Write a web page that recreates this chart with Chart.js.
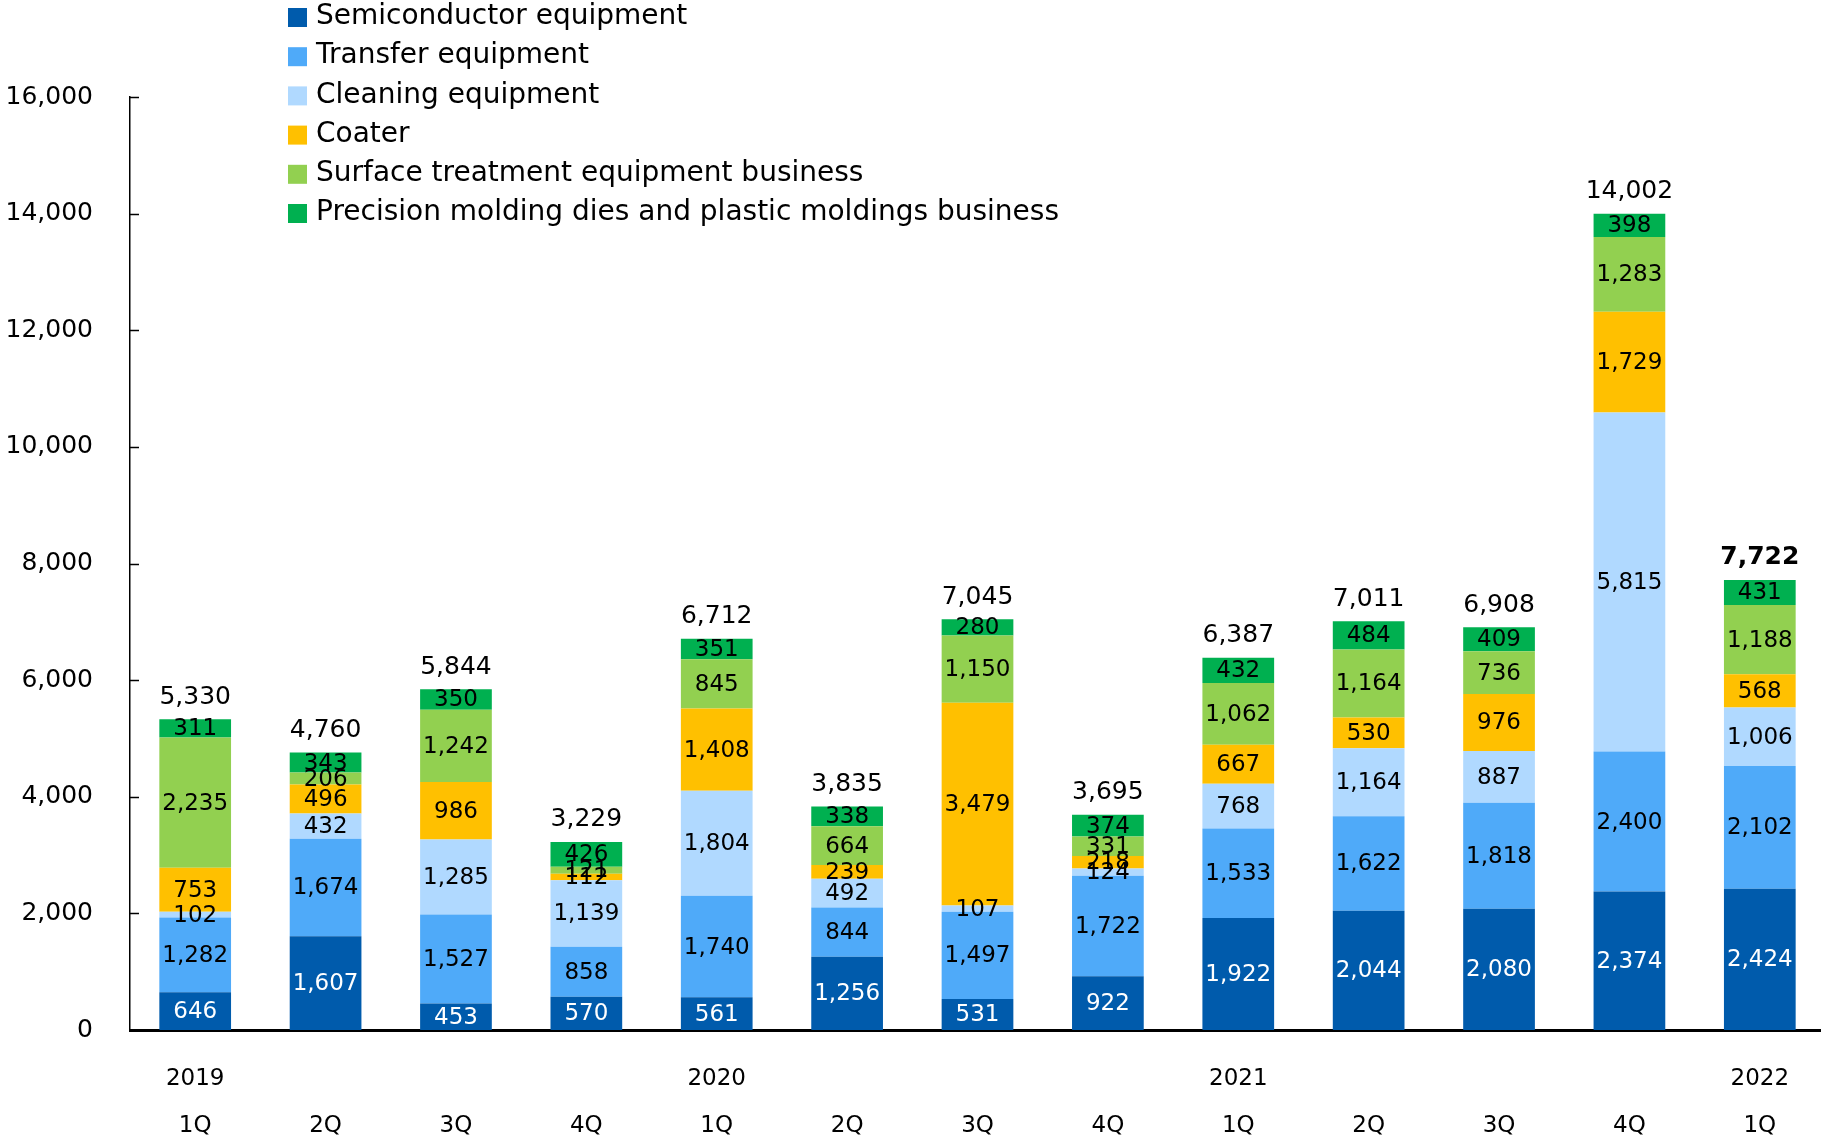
<!DOCTYPE html>
<html>
<head>
<meta charset="utf-8">
<title>Orders by business segment</title>
<script src="https://cdn.jsdelivr.net/npm/chart.js@4/dist/chart.umd.min.js"></script>
<style>
    body { margin: 0; background: #fff; overflow: hidden; }
    #wrap { width: 1821px; height: 1140px; overflow: hidden; }
</style>
</head>
<body>
<div id="wrap"><canvas id="ordersChart" width="1825" height="1140"></canvas></div>
<script>
// Quarter labels (year shown on the first quarter of each year)
const years = ['2019', '', '', '', '2020', '', '', '', '2021', '', '', '', '2022'];
const quarters = ['1Q', '2Q', '3Q', '4Q', '1Q', '2Q', '3Q', '4Q', '1Q', '2Q', '3Q', '4Q', '1Q'];

// Segment values (millions of yen)
const semiconductor = [646, 1607, 453, 570, 561, 1256, 531, 922, 1922, 2044, 2080, 2374, 2424];
const transfer = [1282, 1674, 1527, 858, 1740, 844, 1497, 1722, 1533, 1622, 1818, 2400, 2102];
const cleaning = [102, 432, 1285, 1139, 1804, 492, 107, 124, 768, 1164, 887, 5815, 1006];
const coater = [753, 496, 986, 112, 1408, 239, 3479, 218, 667, 530, 976, 1729, 568];
const surface = [2235, 206, 1242, 121, 845, 664, 1150, 331, 1062, 1164, 736, 1283, 1188];
const precision = [311, 343, 350, 426, 351, 338, 280, 374, 432, 484, 409, 398, 431];

// Quarter totals shown above each stack
const totals = [5330, 4760, 5844, 3229, 6712, 3835, 7045, 3695, 6387, 7011, 6908, 14002, 7722];

const yTicks = [0, 2000, 4000, 6000, 8000, 10000, 12000, 14000, 16000];

const FONT = '"DejaVu Sans", Verdana, sans-serif';
const fmt = v => v.toLocaleString('en-US');

const series = [
    { label: 'Semiconductor equipment', data: semiconductor, color: '#005BAC', text: '#ffffff' },
    { label: 'Transfer equipment', data: transfer, color: '#4FAAF9', text: '#000000' },
    { label: 'Cleaning equipment', data: cleaning, color: '#B0D9FF', text: '#000000' },
    { label: 'Coater', data: coater, color: '#FFC000', text: '#000000' },
    { label: 'Surface treatment equipment business', data: surface, color: '#92D050', text: '#000000' },
    { label: 'Precision molding dies and plastic moldings business', data: precision, color: '#00B050', text: '#000000' }
];

// Value labels inside the segments and totals on top
const labelPlugin = {
    id: 'segmentLabels',
    afterDatasetsDraw(chart) {
        const ctx = chart.ctx;
        ctx.save();
        ctx.textAlign = 'center';
        ctx.textBaseline = 'middle';
        ctx.font = '23px ' + FONT;
        series.forEach((s, i) => {
            const meta = chart.getDatasetMeta(i);
            ctx.fillStyle = s.text;
            meta.data.forEach((bar, j) => {
                ctx.fillText(fmt(s.data[j]), bar.x, (bar.y + bar.base) / 2 + 1);
            });
        });
        // totals
        const top = chart.getDatasetMeta(series.length - 1);
        ctx.fillStyle = '#000';
        top.data.forEach((bar, j) => {
            const last = j === totals.length - 1;
            ctx.font = (last ? 'bold ' : '') + '25px ' + FONT;
            ctx.fillText(fmt(totals[j]), bar.x, bar.y - 22);
        });
        ctx.restore();
    }
};

// Short inward tick marks on the value axis
const innerTicks = {
    id: 'innerTicks',
    afterDraw(chart) {
        const ctx = chart.ctx;
        const y = chart.scales.y;
        const x0 = chart.chartArea.left;
        ctx.save();
        ctx.strokeStyle = '#000';
        ctx.lineWidth = 1.5;
        yTicks.forEach(v => {
            const py = Math.round(y.getPixelForValue(v)) + 0.5;
            ctx.beginPath();
            ctx.moveTo(x0, py);
            ctx.lineTo(x0 + 9, py);
            ctx.stroke();
        });
        ctx.restore();
    }
};

// Vertical legend in the upper left
const legendPlugin = {
    id: 'sideLegend',
    afterDraw(chart) {
        const ctx = chart.ctx;
        ctx.save();
        ctx.font = '28px ' + FONT;
        ctx.textAlign = 'left';
        ctx.textBaseline = 'middle';
        series.forEach((s, i) => {
            const cy = 17 + i * 39.2;
            ctx.fillStyle = s.color;
            ctx.fillRect(288, cy - 9, 19, 19);
            ctx.fillStyle = '#000';
            ctx.fillText(s.label, 316, cy);
        });
        ctx.restore();
    }
};

const ctx = document.getElementById('ordersChart').getContext('2d');
new Chart(ctx, {
    type: 'bar',
    data: {
        labels: quarters.map((q, i) => [years[i], q]),
        datasets: series.map(s => ({
            label: s.label,
            data: s.data,
            backgroundColor: s.color,
            borderWidth: 0,
            barPercentage: 0.55,
            categoryPercentage: 1.0
        }))
    },
    options: {
        responsive: false,
        animation: false,
        devicePixelRatio: 1,
        layout: { padding: { top: 97, right: 0, bottom: 0, left: 0 } },
        plugins: {
            legend: { display: false },
            tooltip: { enabled: false }
        },
        scales: {
            x: {
                stacked: true,
                grid: { display: false, drawTicks: false },
                border: { display: true, color: '#000', width: 3 },
                ticks: {
                    color: '#000',
                    padding: 26,
                    maxRotation: 0,
                    autoSkip: false,
                    font: { family: FONT, size: 23, lineHeight: '47px' }
                },
                afterFit: scale => { scale.height = 110; }
            },
            y: {
                stacked: true,
                min: 0,
                max: 16000,
                grid: { display: false, drawTicks: false },
                border: { display: true, color: '#000', width: 1.5 },
                ticks: {
                    stepSize: 2000,
                    color: '#000',
                    padding: 37,
                    font: { family: FONT, size: 25 },
                    callback: v => fmt(v)
                },
                afterFit: scale => { scale.width = 130; }
            }
        }
    },
    plugins: [labelPlugin, innerTicks, legendPlugin]
});
</script>
</body>
</html>
